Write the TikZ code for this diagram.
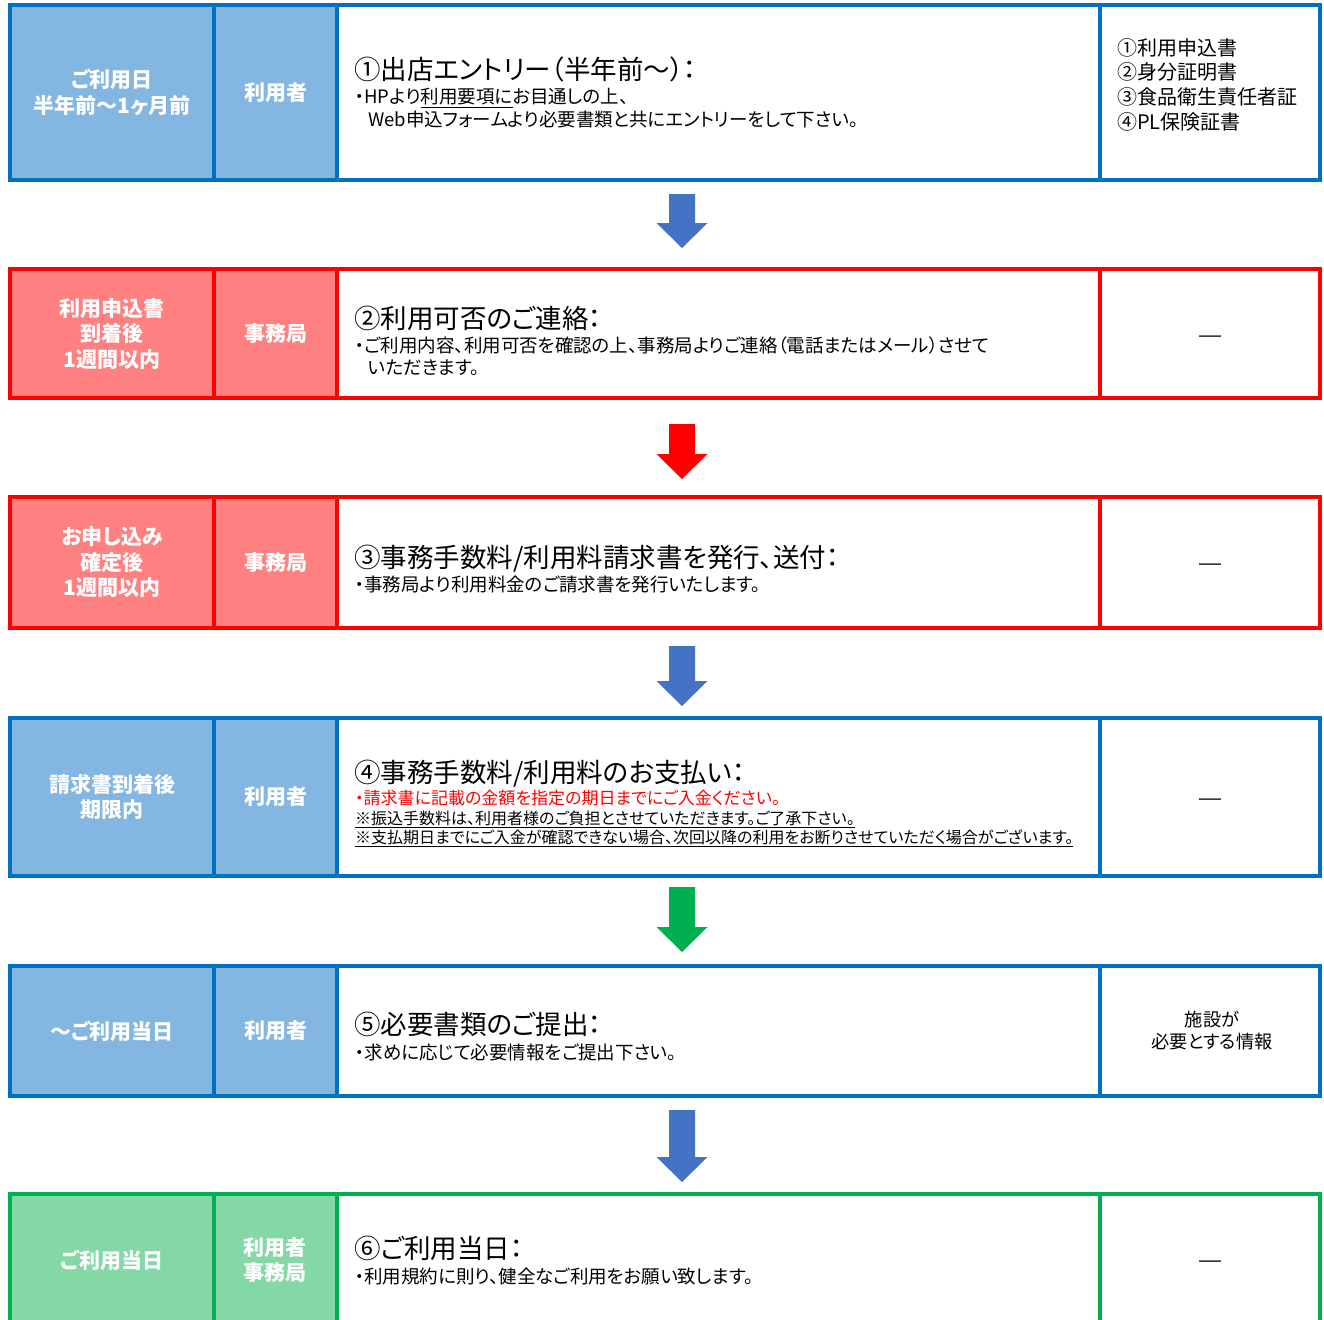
\documentclass[tikz,border=0pt]{standalone}
\usepackage{fontspec}
\setmainfont{Noto Sans CJK JP}[RawFeature=+palt]
\definecolor{blueB}{HTML}{0070C0}
\definecolor{blueF}{HTML}{83B6E0}
\definecolor{redB}{HTML}{FF0000}
\definecolor{redF}{HTML}{FF8080}
\definecolor{greenB}{HTML}{00B050}
\definecolor{greenF}{HTML}{84D8A6}
\definecolor{arrBlue}{HTML}{4472C4}
\tikzset{
  cell/.style={rectangle, draw, line width=3.6pt, anchor=north west, outer sep=0pt, inner sep=0pt},
  lab/.style={text=white, font=\fontsize{21}{25.5}\selectfont\bfseries, align=center, inner sep=0pt},
  ttl/.style={font=\fontsize{26.5}{30}\selectfont, anchor=base west, inner sep=0pt},
  bdy/.style={font=\fontsize{18.5}{22}\selectfont, anchor=base west, inner sep=0pt},
  sbdy/.style={font=\fontsize{16}{20}\selectfont, anchor=base west, inner sep=0pt},
  doc/.style={font=\fontsize{20}{24}\selectfont, anchor=base west, inner sep=0pt},
  nilmark/.style={font=\fontsize{26}{27}\selectfont\bfseries, inner sep=0pt},
}
% #1 prefix, #2 top, #3 height, #4 border, #5 fill
\newcommand\flowrow[5]{%
  \node[cell, draw=#4, fill=#5, minimum width=204, minimum height=#3] (#1t) at (10,#2) {};
  \node[cell, draw=#4, fill=#5, minimum width=123, minimum height=#3] (#1w) at (214,#2) {};
  \node[cell, draw=#4, fill=white, minimum width=763, minimum height=#3] (#1m) at (337,#2) {};
  \node[cell, draw=#4, fill=white, minimum width=220, minimum height=#3] (#1r) at (1100,#2) {};
}
% #1 colour, #2 centre x, #3 top y, #4 tip y
\newcommand\flowarrow[4]{%
  \fill[#1] (#2-13,#3) -- (#2+13,#3) -- (#2+13,#4-25) -- (#2+25.5,#4-25) -- (#2,#4)
    -- (#2-25.5,#4-25) -- (#2-13,#4-25) -- cycle;
}
\begin{document}
\begin{tikzpicture}[x=1pt,y=-1pt]
\useasboundingbox (0,0) rectangle (1324,1319);
\clip (0,0) rectangle (1324,1319);
\fill[white] (0,0) rectangle (1324,1319);

% rows
\flowrow{ra}{5}{175}{blueB}{blueF}
\flowrow{rb}{269}{129}{redB}{redF}
\flowrow{rc}{497}{131}{redB}{redF}
\flowrow{rd}{718}{158}{blueB}{blueF}
\flowrow{re}{966}{130}{blueB}{blueF}
\flowrow{rf}{1194}{140}{greenB}{greenF}

% arrows
\flowarrow{arrBlue}{682}{194}{248}
\flowarrow{redB}{682}{424}{479}
\flowarrow{arrBlue}{682}{646}{706}
\flowarrow{greenB}{682}{887}{952}
\flowarrow{arrBlue}{682}{1110}{1182}

% left labels
\node[lab] (ratl) at (rat.center) {ご利用日\\半年前～1ヶ月前};
\node[lab] (rbtl) at (rbt.center) {利用申込書\\到着後\\1週間以内};
\node[lab] (rctl) at (rct.center) {お申し込み\\確定後\\1週間以内};
\node[lab] (rdtl) at (rdt.center) {請求書到着後\\期限内};
\node[lab] (retl) at (ret.center) {～ご利用当日};
\node[lab] (rftl) at (112,1260) {ご利用当日};

\node[lab] (rawl) at (raw.center) {利用者};
\node[lab] (rbwl) at (rbw.center) {事務局};
\node[lab] (rcwl) at (rcw.center) {事務局};
\node[lab] (rdwl) at (rdw.center) {利用者};
\node[lab] (rewl) at (rew.center) {利用者};
\node[lab] (rfwl) at (275,1260) {利用者\\事務局};

% main texts
\node[ttl] (ram1) at (354,80) {①出店エントリー（半年前～）：};
\node[bdy] (ram2) at (355,104) {・HPより\underline{利用要項に}お目通しの上、};
\node[bdy] (ram3) at (368,126) {Web申込フォームより必要書類と共にエントリーをして下さい。};

\node[ttl] (rbm1) at (354,328) {②利用可否のご連絡：};
\node[bdy] (rbm2) at (355,352) {・ご利用内容、利用可否を確認の上、事務局よりご連絡（電話またはメール）させて};
\node[bdy] (rbm3) at (368,374) {いただきます。};

\node[ttl] (rcm1) at (354,567) {③事務手数料/利用料請求書を発行、送付：};
\node[bdy] (rcm2) at (355,591) {・事務局より利用料金のご請求書を発行いたします。};

\node[ttl] (rdm1) at (354,782) {④事務手数料/利用料のお支払い：};
\node[sbdy, font=\fontsize{17}{20}\selectfont, text=redB] (rdm2) at (355,804.5) {・請求書に記載の金額を指定の期日までにご入金ください。};
\node[sbdy] (rdm3) at (355,824) {\underline{※振込手数料は、利用者様のご負担とさせていただきます。ご了承下さい。}};
\node[sbdy] (rdm4) at (355,843) {\underline{※支払期日までにご入金が確認できない場合、次回以降の利用をお断りさせていただく場合がございます。}};

\node[ttl] (rem1) at (354,1034) {⑤必要書類のご提出：};
\node[bdy] (rem2) at (355,1059) {・求めに応じて必要情報をご提出下さい。};

\node[ttl] (rfm1) at (354,1258) {⑥ご利用当日：};
\node[bdy] (rfm2) at (355,1283) {・利用規約に則り、健全なご利用をお願い致します。};

% right column
\node[doc] (rar1) at (1117,56) {①利用申込書};
\node[doc] (rar2) at (1117,80) {②身分証明書};
\node[doc] (rar3) at (1117,104.5) {③食品衛生責任者証};
\node[doc] (rar4) at (1117,129) {④PL保険証書};
\node[nilmark] (rbr) at (1210,341) {―};
\node[nilmark] (rcr) at (1210,569) {―};
\node[nilmark] (rdr) at (1210,804) {―};
\node[font=\fontsize{18.2}{22}\selectfont, align=center, inner sep=0pt] (rer) at (1212,1031) {施設が\\必要とする情報};
\node[nilmark] (rfr) at (1210,1266) {―};
\end{tikzpicture}
\end{document}
